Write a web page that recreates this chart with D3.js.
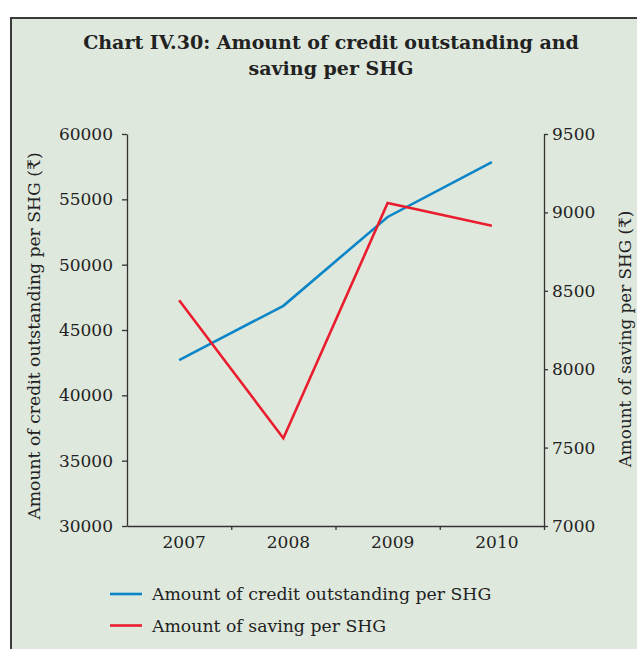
<!DOCTYPE html>
<html>
<head>
<meta charset="utf-8">
<script src="https://cdn.jsdelivr.net/npm/d3@7"></script>
<style>
  body { margin: 0; background: #fff; }
  text { font-family: "DejaVu Serif", serif; fill: #222; }
</style>
</head>
<body>
<script>
// Chart data
var years = ["2007", "2008", "2009", "2010"];
var credit = [42700, 46850, 53650, 57850];   // left axis
var saving = [8440, 7560, 9060, 8915];       // right axis
var leftTicks = [30000, 35000, 40000, 45000, 50000, 55000, 60000];
var rightTicks = [7000, 7500, 8000, 8500, 9000, 9500];
var seriesNames = ["Amount of credit outstanding per SHG", "Amount of saving per SHG"];
var seriesColors = ["#0a85c8", "#ea1d2f"];

var W = 637, H = 649;
var margin = { top: 134, right: 93, bottom: 123, left: 127 };

var svg = d3.select("body").append("svg")
    .attr("width", W)
    .attr("height", H);

// panel background + frame
svg.append("rect")
    .attr("x", 11).attr("y", 18)
    .attr("width", W + 10).attr("height", H + 10)
    .attr("fill", "#dfe8dc")
    .attr("stroke", "#3a3a3a")
    .attr("stroke-width", 2);

// title
svg.append("text")
    .attr("x", 331).attr("y", 49)
    .attr("text-anchor", "middle")
    .attr("font-size", "19px")
    .attr("font-weight", "bold")
    .text("Chart IV.30: Amount of credit outstanding and");
svg.append("text")
    .attr("x", 331).attr("y", 75)
    .attr("text-anchor", "middle")
    .attr("font-size", "19px")
    .attr("font-weight", "bold")
    .text("saving per SHG");

var x0 = margin.left, x1 = W - margin.right;
var y0 = H - margin.bottom, y1 = margin.top;

var x = d3.scaleBand().domain(years).range([x0, x1]);
var xEdge = d3.scaleLinear().domain([0, years.length]).range([x0, x1]);
var yL = d3.scaleLinear().domain([30000, 60000]).range([y0, y1]);
var yR = d3.scaleLinear().domain([7000, 9500]).range([y0, y1]);

function styleAxis(g) {
    g.select(".domain").attr("stroke", "#333").attr("stroke-width", 1.3);
    g.selectAll(".tick line").attr("stroke", "#333").attr("stroke-width", 1.3);
    g.selectAll("text").attr("font-family", "DejaVu Serif").attr("font-size", "17px").attr("fill", "#222");
}

// left axis
svg.append("g")
    .attr("transform", "translate(" + x0 + ",0)")
    .call(d3.axisLeft(yL).tickValues(leftTicks).tickSize(5).tickSizeOuter(0).tickPadding(9).tickFormat(d3.format("d")))
    .call(styleAxis);

// right axis
svg.append("g")
    .attr("transform", "translate(" + x1 + ",0)")
    .call(d3.axisRight(yR).tickValues(rightTicks).tickSize(4).tickSizeOuter(0).tickPadding(4).tickFormat(d3.format("d")))
    .call(styleAxis);

// bottom axis: ticks at category boundaries
svg.append("g")
    .attr("transform", "translate(0," + y0 + ")")
    .call(d3.axisBottom(xEdge).tickValues(d3.range(1, years.length + 1)).tickSize(4).tickSizeOuter(0).tickFormat(""))
    .call(styleAxis);

// bottom labels
svg.append("g")
    .attr("transform", "translate(0," + y0 + ")")
    .call(d3.axisBottom(x).tickSize(0).tickPadding(10))
    .call(styleAxis)
    .call(g => g.select(".domain").remove())
    .call(g => g.selectAll("text").attr("dx", 5));

// axis titles
svg.append("text")
    .attr("transform", "translate(40," + 336 + ") rotate(-90)")
    .attr("text-anchor", "middle")
    .attr("font-size", "17.2px")
    .text("Amount of credit outstanding per SHG (₹)");
svg.append("text")
    .attr("transform", "translate(631," + 339 + ") rotate(-90)")
    .attr("text-anchor", "middle")
    .attr("font-size", "16.8px")
    .text("Amount of saving per SHG (₹)");

// lines
var lineL = d3.line()
    .x((d, i) => x(years[i]) + x.bandwidth() / 2)
    .y(d => yL(d));
var lineR = d3.line()
    .x((d, i) => x(years[i]) + x.bandwidth() / 2)
    .y(d => yR(d));

svg.append("path")
    .datum(credit)
    .attr("d", lineL)
    .attr("fill", "none")
    .attr("stroke", seriesColors[0])
    .attr("stroke-width", 2.6);

svg.append("path")
    .datum(saving)
    .attr("d", lineR)
    .attr("fill", "none")
    .attr("stroke", seriesColors[1])
    .attr("stroke-width", 2.6);

// legend
var legend = svg.selectAll(".legend")
    .data(seriesNames)
    .enter().append("g")
    .attr("class", "legend")
    .attr("transform", (d, i) => "translate(110," + (594 + i * 31.5) + ")");

legend.append("line")
    .attr("x1", 0).attr("x2", 32)
    .attr("stroke", (d, i) => seriesColors[i])
    .attr("stroke-width", 2.6);

legend.append("text")
    .attr("x", 42).attr("y", 6)
    .attr("font-size", "17.3px")
    .text(d => d);
</script>
</body>
</html>
